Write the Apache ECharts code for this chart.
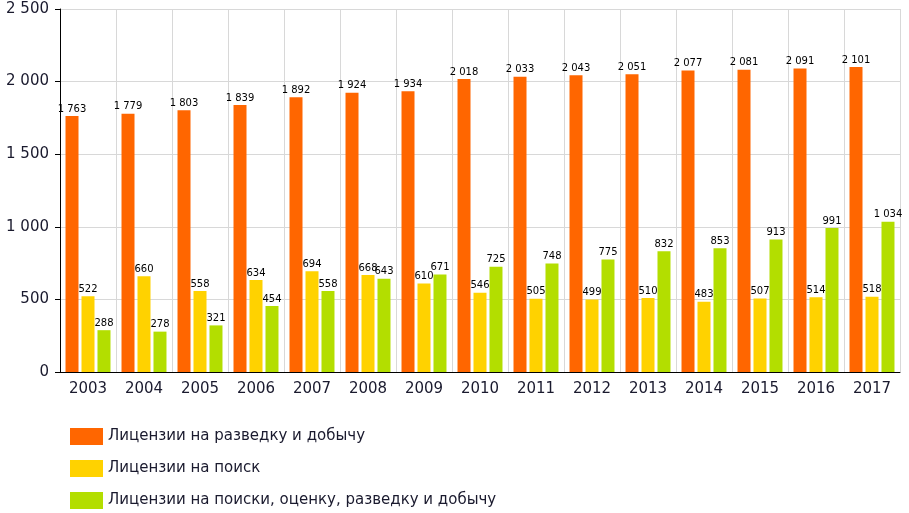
<!DOCTYPE html>
<html><head><meta charset="utf-8">
<script src="https://cdn.jsdelivr.net/npm/echarts@6/dist/echarts.min.js"></script>
<style>html,body{margin:0;padding:0;background:#fff}#c{width:909px;height:513px}</style>
</head><body><div id="c"></div>
<script>
const categories = ['2003','2004','2005','2006','2007','2008','2009','2010','2011','2012','2013','2014','2015','2016','2017'];
const seriesNames = ['Лицензии на разведку и добычу','Лицензии на поиск','Лицензии на поиски, оценку, разведку и добычу'];
const explorationProduction = [1763,1779,1803,1839,1892,1924,1934,2018,2033,2043,2051,2077,2081,2091,2101];
const prospecting = [522,660,558,634,694,668,610,546,505,499,510,483,507,514,518];
const combined = [288,278,321,454,558,643,671,725,748,775,832,853,913,991,1034];
const yTicks = [0,500,1000,1500,2000,2500];
const colors = ['#FF6600','#FFD200','#B3DE00'];
const fmt = v => String(v).replace(/\B(?=(\d{3})+(?!\d))/g,' ');
const font = 'DejaVu Sans, Verdana, sans-serif';
const chart = echarts.init(document.getElementById('c'));
const mk = (name, data, color) => ({
  name, type:'bar', data, barWidth:13, barGap:'23%',
  itemStyle:{color},
  label:{show:true, position:'top', distance:2, fontFamily:font, fontSize:10, color:'#000', formatter:p=>fmt(p.value)}
});
chart.setOption({
  animation:false,
  color:colors,
  grid:{left:60,right:9,top:9,bottom:141},
  xAxis:{type:'category', data:categories, boundaryGap:true,
    axisLine:{lineStyle:{color:'#000'}},
    axisTick:{alignWithLabel:true, length:5, lineStyle:{color:'#000'}},
    axisLabel:{fontFamily:font, fontSize:15, color:'#1a1a2e', margin:10},
    splitLine:{show:true, lineStyle:{color:'#d8d8d8'}}},
  yAxis:{type:'value', min:yTicks[0], max:yTicks[yTicks.length-1], interval:500,
    axisLine:{show:true, lineStyle:{color:'#000'}},
    axisTick:{show:true, length:5, lineStyle:{color:'#000'}},
    axisLabel:{fontFamily:font, fontSize:15, color:'#1a1a2e', margin:11, formatter:v=>fmt(v)},
    splitLine:{show:true, lineStyle:{color:'#d8d8d8'}}},
  legend:{orient:'vertical', left:70, top:428, padding:0, height:90, itemWidth:33, itemHeight:17, itemGap:15,
    icon:'rect', textStyle:{fontFamily:font, fontSize:15, color:'#1a1a2e'},
    data:seriesNames},
  series:[mk(seriesNames[0],explorationProduction,colors[0]), mk(seriesNames[1],prospecting,colors[1]), mk(seriesNames[2],combined,colors[2])]
});
</script></body></html>
